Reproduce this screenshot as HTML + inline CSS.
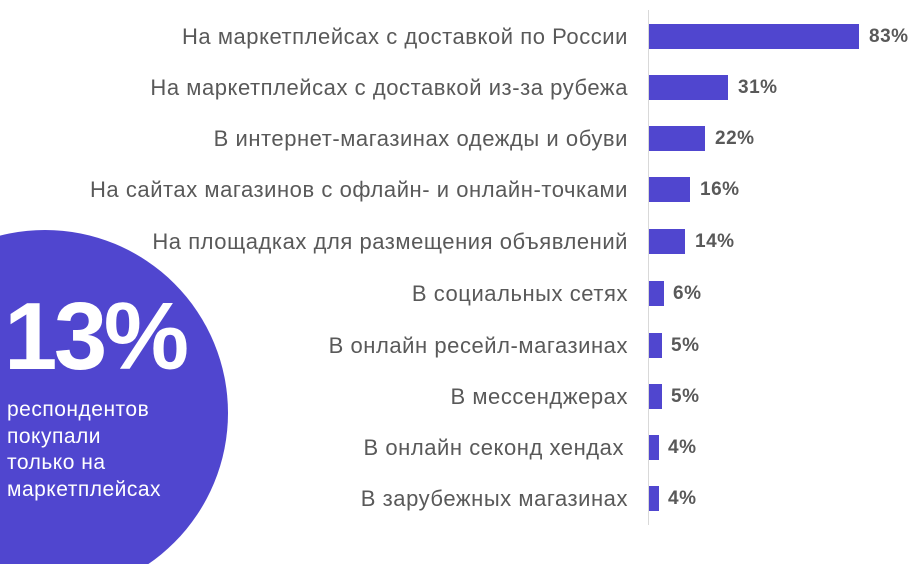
<!DOCTYPE html>
<html><head><meta charset="utf-8"><style>
html,body{margin:0;width:922px;height:565px;overflow:hidden;background:#fff;font-family:"Liberation Sans",Arial,sans-serif}
.w{position:relative;width:922px;height:565px;overflow:hidden}
.c{position:absolute;left:0;top:230px;display:block}
.big{position:absolute;left:4px;top:282px;font-size:96px;font-weight:bold;color:#fff;line-height:110px;letter-spacing:-3.5px}
.sub{position:absolute;left:7px;top:397px;font-size:21px;line-height:26.5px;color:#fff;letter-spacing:0.5px}
.ax{position:absolute;left:648px;top:10px;width:1px;height:515px;background:#d9d9d9}
.l{position:absolute;right:294px;font-size:22px;letter-spacing:0.55px;color:#595959;white-space:nowrap;line-height:26px}
.b{position:absolute;left:649px;height:25px;background:#5046cf}
.v{position:absolute;font-size:19px;letter-spacing:0.5px;font-weight:bold;color:#595959;line-height:26px}
</style></head><body><div class="w">
<svg class="c" width="230" height="334" viewBox="0 230 230 334"><circle cx="45" cy="413" r="183" fill="#5046cf"/></svg>
<div class="big">13%</div>
<div class="sub">респондентов<br>покупали<br>только на<br>маркетплейсах</div>
<div class="ax"></div>
<div class="l" style="top:24px">На маркетплейсах с доставкой по России</div><div class="b" style="top:24px;width:210px"></div><div class="v" style="top:24px;left:869px">83%</div>
<div class="l" style="top:75px">На маркетплейсах с доставкой из-за рубежа</div><div class="b" style="top:75px;width:79px"></div><div class="v" style="top:75px;left:738px">31%</div>
<div class="l" style="top:126px">В интернет-магазинах одежды и обуви</div><div class="b" style="top:126px;width:56px"></div><div class="v" style="top:126px;left:715px">22%</div>
<div class="l" style="top:177px">На сайтах магазинов с офлайн- и онлайн-точками</div><div class="b" style="top:177px;width:41px"></div><div class="v" style="top:177px;left:700px">16%</div>
<div class="l" style="top:229px">На площадках для размещения объявлений</div><div class="b" style="top:229px;width:36px"></div><div class="v" style="top:229px;left:695px">14%</div>
<div class="l" style="top:281px">В социальных сетях</div><div class="b" style="top:281px;width:15px"></div><div class="v" style="top:281px;left:673px">6%</div>
<div class="l" style="top:333px">В онлайн ресейл-магазинах</div><div class="b" style="top:333px;width:13px"></div><div class="v" style="top:333px;left:671px">5%</div>
<div class="l" style="top:384px">В мессенджерах</div><div class="b" style="top:384px;width:13px"></div><div class="v" style="top:384px;left:671px">5%</div>
<div class="l" style="top:435px;right:298px">В онлайн секонд хендах</div><div class="b" style="top:435px;width:10px"></div><div class="v" style="top:435px;left:668px">4%</div>
<div class="l" style="top:486px">В зарубежных магазинах</div><div class="b" style="top:486px;width:10px"></div><div class="v" style="top:486px;left:668px">4%</div>
</div></body></html>
